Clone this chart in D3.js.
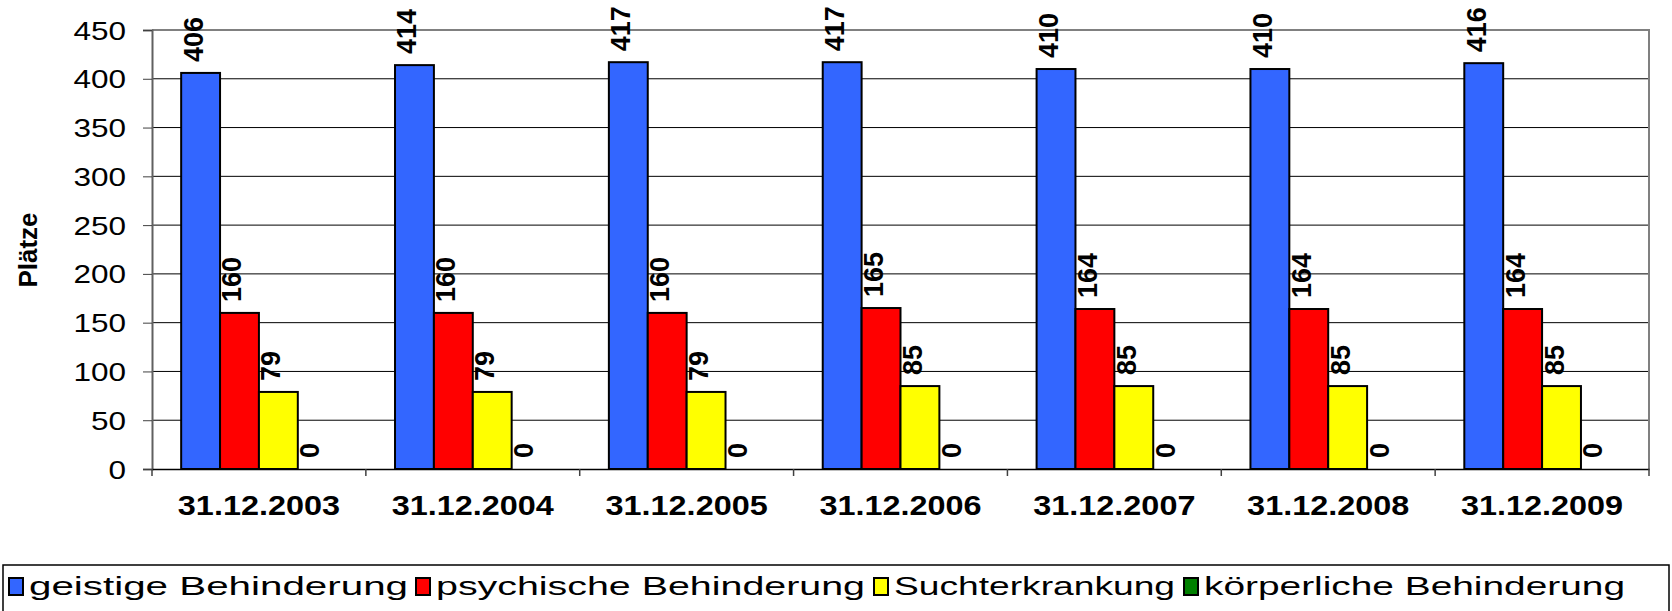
<!DOCTYPE html>
<html>
<head>
<meta charset="utf-8">
<script src="https://cdn.jsdelivr.net/npm/d3@7"></script>
<style>
  html, body { margin: 0; padding: 0; background: #fff; }
  svg { display: block; }
  text { font-family: "Liberation Sans", Arial, sans-serif; fill: #000; }
</style>
</head>
<body>
<svg id="chart" width="1672" height="611"></svg>
<script>
// ---- data ----
const categories = ["31.12.2003","31.12.2004","31.12.2005","31.12.2006","31.12.2007","31.12.2008","31.12.2009"];
const seriesNames = ["geistige Behinderung","psychische Behinderung","Suchterkrankung","körperliche Behinderung"];
const geistige   = [406, 414, 417, 417, 410, 410, 416];
const psychische = [160, 160, 160, 165, 164, 164, 164];
const sucht      = [79, 79, 79, 85, 85, 85, 85];
const koerper    = [0, 0, 0, 0, 0, 0, 0];
const yTicks = [0, 50, 100, 150, 200, 250, 300, 350, 400, 450];
const yTitle = "Plätze";
const colors = ["#3366FF", "#FF0000", "#FFFF00", "#008000"];

const seriesValues = [geistige, psychische, sucht, koerper];
const rows = categories.map((c, i) => ({
  cat: c,
  vals: seriesNames.map((s, k) => ({ key: s, k, v: seriesValues[k][i] }))
}));

// ---- layout ----
const svg = d3.select("#chart");
const plot = { left: 152, right: 1649, top: 30, bottom: 469 };

const x0 = d3.scaleBand().domain(categories).range([plot.left, plot.right]).paddingInner(0).paddingOuter(0);
const x1 = d3.scaleBand().domain(seriesNames).range([0, x0.bandwidth()]).paddingInner(0).paddingOuter(0.75);
const y = d3.scaleLinear().domain([0, 450]).range([plot.bottom, plot.top]);

function stretch(sel, f) {
  sel.each(function () {
    const w = this.getComputedTextLength();
    d3.select(this).attr("textLength", w * f).attr("lengthAdjust", "spacingAndGlyphs");
  });
}

// gridlines
svg.append("g").selectAll("line").data(yTicks.filter(t => t > 0 && t < 450)).join("line")
  .attr("x1", plot.left).attr("x2", plot.right)
  .attr("y1", d => y(d)).attr("y2", d => y(d))
  .attr("stroke", "#000").attr("stroke-width", 1);

// plot border (top + right)
svg.append("path")
  .attr("d", `M${plot.left},${y(450)}H${plot.right}V${plot.bottom}`)
  .attr("fill", "none").attr("stroke", "#808080").attr("stroke-width", 2);

// y axis
const yAxis = svg.append("g").attr("transform", `translate(${plot.left},0)`)
  .call(d3.axisLeft(y).tickValues(yTicks).tickSize(9).tickPadding(17).tickFormat(d3.format("d")));
yAxis.select(".domain").attr("stroke", "#606060").attr("stroke-width", 2);
yAxis.selectAll(".tick line").attr("stroke", "#404040").attr("stroke-width", 1);
yAxis.selectAll(".tick text")
  .style("font-family", '"Liberation Sans", Arial, sans-serif')
  .style("font-size", "25px").attr("fill", "#000").attr("dy", "0.36em");
stretch(yAxis.selectAll(".tick text"), 1.26);

// bars
const groups = svg.append("g").selectAll("g").data(rows).join("g")
  .attr("transform", d => `translate(${x0(d.cat)},0)`);
groups.selectAll("rect").data(d => d.vals.filter(v => v.v > 0)).join("rect")
  .attr("x", d => x1(d.key)).attr("width", x1.bandwidth())
  .attr("y", d => y(d.v)).attr("height", d => y(0) - y(d.v))
  .attr("fill", d => colors[d.k]).attr("stroke", "#000").attr("stroke-width", 2);

// x axis
const xAxis = svg.append("g").attr("transform", `translate(0,${plot.bottom})`)
  .call(d3.axisBottom(x0).tickSize(0).tickPadding(0));
xAxis.select(".domain").attr("stroke", "#000").attr("stroke-width", 1.5);
xAxis.selectAll(".tick text").remove();
// category boundary ticks
const bounds = categories.map(c => x0(c)).concat([plot.right]);
svg.append("g").selectAll("line").data(bounds).join("line")
  .attr("x1", d => d).attr("x2", d => d)
  .attr("y1", plot.bottom).attr("y2", plot.bottom + 7)
  .attr("stroke", "#404040").attr("stroke-width", 1.5);
// category labels
const xl = svg.append("g").selectAll("text").data(categories).join("text")
  .attr("x", d => x0(d) + x0.bandwidth() / 2).attr("y", 515)
  .attr("text-anchor", "middle")
  .style("font-size", "27px").style("font-weight", "bold")
  .text(d => d);
stretch(xl, 1.2);

// value labels
groups.selectAll("text.val").data(d => d.vals).join("text")
  .attr("class", "val")
  .attr("transform", d => `translate(${x1(d.key) + x1.bandwidth() / 2 + 2},${y(d.v) - 11}) rotate(-90)`)
  .attr("text-anchor", "start")
  .style("font-size", "27px").style("font-weight", "bold")
  .text(d => d.v);

// y title
svg.append("text")
  .attr("transform", `translate(37,250) rotate(-90)`)
  .attr("text-anchor", "middle")
  .style("font-size", "26px").style("font-weight", "bold")
  .text(yTitle);

// legend
svg.append("rect").attr("x", 3).attr("y", 565).attr("width", 1666).attr("height", 60)
  .attr("fill", "#fff").attr("stroke", "#000").attr("stroke-width", 1.5);
const legendX = [9, 416, 874, 1184];
const legendTextW = [379, 429, 281, 421];
const lg = svg.append("g").selectAll("g").data(seriesNames).join("g")
  .attr("transform", (d, i) => `translate(${legendX[i]},0)`);
lg.append("rect").attr("x", 0).attr("y", 578).attr("width", 14).attr("height", 17)
  .attr("fill", (d, i) => colors[i]).attr("stroke", "#000").attr("stroke-width", 2);
lg.append("text").attr("x", 20).attr("y", 595)
  .style("font-size", "26px")
  .attr("textLength", (d, i) => legendTextW[i]).attr("lengthAdjust", "spacingAndGlyphs")
  .text(d => d);
</script>
</body>
</html>
